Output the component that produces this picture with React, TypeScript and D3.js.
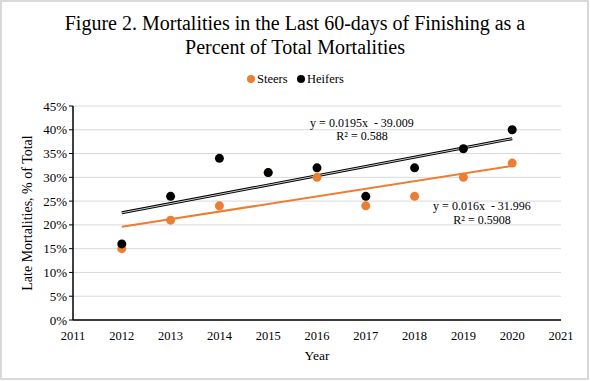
import React from "react";
import * as d3 from "d3";

const years = [2012, 2013, 2014, 2015, 2016, 2017, 2018, 2019, 2020];
const steers = [15, 21, 24, 31, 30, 24, 26, 30, 33];
const heifers = [16, 26, 34, 31, 32, 26, 32, 36, 40];
const yTicks = [0, 5, 10, 15, 20, 25, 30, 35, 40, 45];
const xTicks = [2011, 2012, 2013, 2014, 2015, 2016, 2017, 2018, 2019, 2020, 2021];
const steerEq = ["y = 0.016x  - 31.996", "R² = 0.5908"];
const heiferEq = ["y = 0.0195x  - 39.009", "R² = 0.588"];

const W = 590, H = 381;
const M = { left: 73, right: 561, top: 106, bottom: 320 };
const ORANGE = "#ED7D31";
const FONT = "'Liberation Serif', 'Times New Roman', serif";

function fit(xs: number[], ys: number[]) {
  const mx = d3.mean(xs)!, my = d3.mean(ys)!;
  let sxy = 0, sxx = 0;
  xs.forEach((x, i) => { sxy += (x - mx) * (ys[i] - my); sxx += (x - mx) ** 2; });
  const b = sxy / sxx;
  return (x: number) => my + b * (x - mx);
}

export default function App() {
  const x = d3.scaleLinear().domain([2011, 2021]).range([M.left, M.right]);
  const y = d3.scaleLinear().domain([0, 45]).range([M.bottom, M.top]);
  const fs = fit(years, steers);
  const fh = fit(years, heifers);
  const x0 = years[0], x1 = years[years.length - 1];
  return (
    <div style={{ position: "absolute", left: 0, top: 0 }}>
      <svg width={W} height={H} style={{ display: "block", fontFamily: FONT }}>
        <rect x={0} y={0} width={W} height={H} fill="#fff" />
        <rect x={1} y={1} width={W - 3} height={H - 3} fill="none" stroke="#d9d9d9" strokeWidth={2} />
        <text x={W / 2} y={30} textAnchor="middle" fontSize={20} fill="#000">
          Figure 2. Mortalities in the Last 60-days  of Finishing as a
        </text>
        <text x={W / 2} y={54} textAnchor="middle" fontSize={20} fill="#000">
          Percent of Total Mortalities
        </text>
        {/* legend */}
        <circle cx={251} cy={79} r={4} fill={ORANGE} />
        <text x={257} y={83} fontSize={12.5}>Steers</text>
        <circle cx={301} cy={79} r={4} fill="#000" />
        <text x={307} y={83} fontSize={12.5}>Heifers</text>
        {/* grid */}
        {yTicks.map((t) => (
          <line key={"g" + t} x1={M.left} x2={M.right} y1={y(t)} y2={y(t)} stroke="#d9d9d9" strokeWidth={1} />
        ))}
        {/* axes */}
        <line x1={M.left} x2={M.left} y1={M.top} y2={M.bottom} stroke="#000" strokeWidth={1.5} />
        <line x1={M.left} x2={M.right} y1={M.bottom} y2={M.bottom} stroke="#000" strokeWidth={1.5} />
        {yTicks.map((t) => (
          <g key={"yt" + t}>
            <line x1={M.left - 4} x2={M.left} y1={y(t)} y2={y(t)} stroke="#000" />
            <text x={M.left - 6} y={y(t) + 4.5} textAnchor="end" fontSize={13}>{t}%</text>
          </g>
        ))}
        {xTicks.map((t) => (
          <text key={"xt" + t} x={x(t)} y={340} textAnchor="middle" fontSize={12.5}>{t}</text>
        ))}
        <text x={(M.left + M.right) / 2} y={360} textAnchor="middle" fontSize={13.5}>Year</text>
        <text transform={`translate(32,${(M.top + M.bottom) / 2}) rotate(-90)`} textAnchor="middle" fontSize={14}>
          Late Mortalities, % of Total
        </text>
        {/* trendlines */}
        <line x1={x(x0)} x2={x(x1)} y1={y(fs(x0))} y2={y(fs(x1))} stroke={ORANGE} strokeWidth={2} />
        <line x1={x(x0)} x2={x(x1)} y1={y(fh(x0))} y2={y(fh(x1))} stroke="#000" strokeWidth={3} />
        <line x1={x(x0)} x2={x(x1)} y1={y(fh(x0))} y2={y(fh(x1))} stroke="#c8c8c8" strokeWidth={1} />
        {/* points */}
        {years.map((yr, i) => (
          <circle key={"s" + yr} cx={x(yr)} cy={y(steers[i])} r={4.5} fill={ORANGE} />
        ))}
        {years.map((yr, i) => (
          <circle key={"h" + yr} cx={x(yr)} cy={y(heifers[i])} r={4.5} fill="#000" />
        ))}
        {/* equations */}
        <text x={362} y={127} textAnchor="middle" fontSize={12} style={{ whiteSpace: "pre" }}>{heiferEq[0]}</text>
        <text x={362} y={140} textAnchor="middle" fontSize={12}>{heiferEq[1]}</text>
        <text x={482} y={210} textAnchor="middle" fontSize={12} style={{ whiteSpace: "pre" }}>{steerEq[0]}</text>
        <text x={482} y={224} textAnchor="middle" fontSize={12}>{steerEq[1]}</text>
      </svg>
    </div>
  );
}
